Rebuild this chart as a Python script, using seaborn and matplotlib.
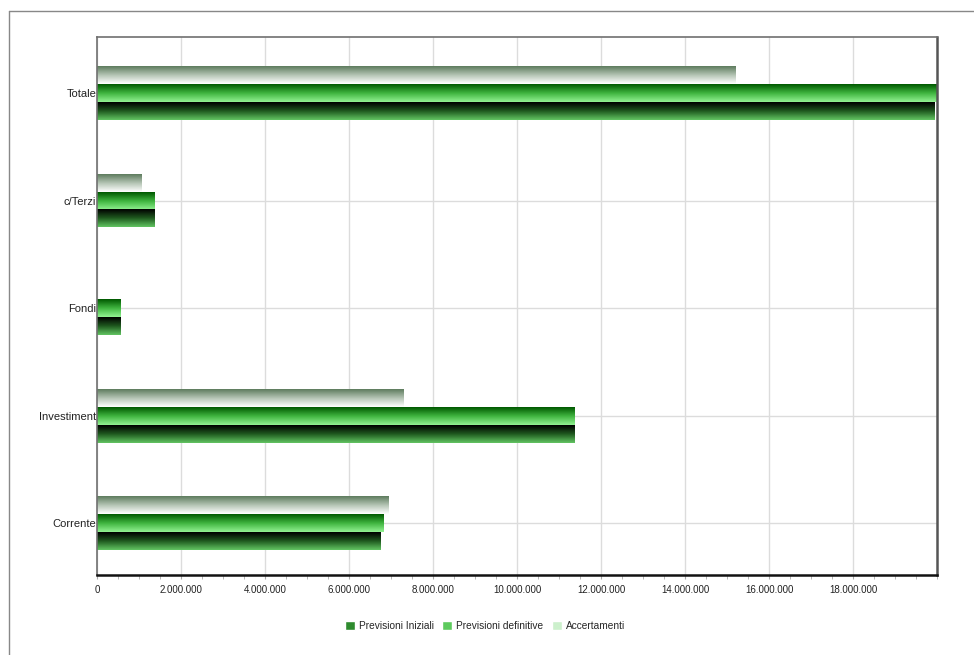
import numpy as np
import pandas as pd
import matplotlib
matplotlib.use('Agg')
import matplotlib.pyplot as plt
import seaborn as sns
from matplotlib.colors import LinearSegmentedColormap
from matplotlib.patches import Patch
from matplotlib.lines import Line2D

# Values (euro)
categories = ['Totale', 'c/Terzi', 'Fondi', 'Investiment', 'Corrente']
accertamenti = [15210000, 1070000, 0, 7290000, 6930000]
previsioni_definitive = [19990000, 1380000, 550000, 11360000, 6830000]
previsioni_iniziali = [19930000, 1380000, 550000, 11380000, 6740000]
series_names = ['Accertamenti', 'Previsioni definitive', 'Previsioni Iniziali']
x_ticks = list(range(0, 18000001, 2000000))

df = pd.DataFrame({
    'categoria': categories * 3,
    'serie': [series_names[0]] * 5 + [series_names[1]] * 5 + [series_names[2]] * 5,
    'valore': accertamenti + previsioni_definitive + previsioni_iniziali,
})

sns.set_style('white')
plt.rcParams['font.family'] = ['Liberation Sans', 'DejaVu Sans']

fig = plt.figure(figsize=(9.74, 6.55), dpi=100)
ax = fig.add_axes([97 / 974, 1 - 575 / 655, 840 / 974, 538 / 655])

sns.barplot(data=df, y='categoria', x='valore', hue='serie', order=categories,
            hue_order=series_names, orient='h', width=0.5, ax=ax, legend=False,
            errorbar=None)

# vertical gradients for each series (top colour -> bottom colour)
gradients = {
    'Accertamenti': ['#5e7c5e', '#b4c4b4', '#ffffff'],
    'Previsioni definitive': ['#005800', '#3fb43f', '#92f292'],
    'Previsioni Iniziali': ['#000000', '#1f5a1f', '#62c462'],
}
grad = np.linspace(0, 1, 64).reshape(-1, 1)
bars = [p for p in ax.patches]
for i, p in enumerate(bars):
    name = series_names[i // len(categories)]
    cmap = LinearSegmentedColormap.from_list(name, gradients[name])
    x0, y0 = p.get_x(), p.get_y()
    w, h = p.get_width(), p.get_height()
    p.set_facecolor('none')
    p.set_edgecolor('none')
    if w <= 0:
        continue
    ax.imshow(grad, cmap=cmap, aspect='auto', origin='upper',
              extent=(x0, x0 + w, y0 + h, y0), zorder=2, interpolation='bilinear')

ax.set_xlim(0, 20000000)
ax.set_ylim(4.48, -0.52)
ax.set_xticks(x_ticks)
ax.set_xticklabels([f'{v:,}'.replace(',', '.') for v in x_ticks], fontsize=7, color='#222222')
ax.set_xticks(np.arange(0, 20000001, 500000), minor=True)
ax.tick_params(axis='x', which='both', bottom=True, length=3, color='#aaaaaa', pad=4)
ax.tick_params(axis='y', left=False, length=0, labelsize=8, pad=0.5, labelcolor='#222222')
ax.set_xlabel('')
ax.set_ylabel('')

ax.set_axisbelow(True)
ax.grid(True, which='major', axis='both', color='#dcdcdc', linewidth=1)

for side in ['left', 'top', 'right']:
    ax.spines[side].set_color('#707070')
    ax.spines[side].set_linewidth(1.2)
ax.spines['bottom'].set_color('#111111')
ax.spines['bottom'].set_linewidth(1.8)
ax.spines['right'].set_linewidth(1.8)
ax.spines['right'].set_color('#555555')

# outer frame (top and left edges visible)
fig.add_artist(Line2D([9 / 974, 1], [1 - 11 / 655, 1 - 11 / 655], color='#888888', lw=1))
fig.add_artist(Line2D([9 / 974, 9 / 974], [0, 1 - 11 / 655], color='#888888', lw=1))

handles = [Patch(facecolor='#2e8b2e', label='Previsioni Iniziali'),
           Patch(facecolor='#5dca5d', label='Previsioni definitive'),
           Patch(facecolor='#ccf0cc', label='Accertamenti')]
fig.legend(handles=handles, loc='center', bbox_to_anchor=(0.498, 1 - 626 / 655), ncol=3,
           frameon=False, fontsize=7.3, handlelength=1.0, handleheight=1.0,
           handletextpad=0.4, columnspacing=0.8)

fig.savefig('out.png', dpi=100)
